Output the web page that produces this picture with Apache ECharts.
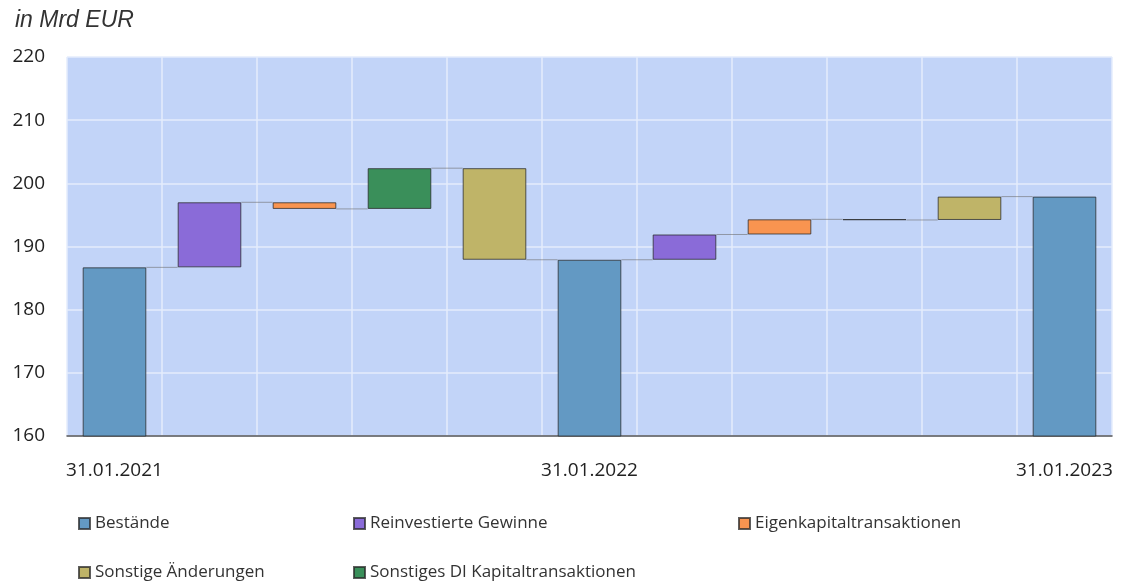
<!DOCTYPE html>
<html>
<head>
<meta charset="utf-8">
<script src="https://cdn.jsdelivr.net/npm/echarts@6/dist/echarts.min.js"></script>
<style>
html,body{margin:0;padding:0;background:#fff;}
#chart{width:1121px;height:582px;}
</style>
</head>
<body>
<div id="chart"></div>
<script>
// ---- data ----
const categories = ['31.01.2021', 'RG 2021', 'EK 2021', 'DI 2021', 'SA 2021',
                    '31.01.2022', 'RG 2022', 'EK 2022', 'DI 2022', 'SA 2022', '31.01.2023'];
const tickLabels = ['31.01.2021', '', '', '', '', '31.01.2022', '', '', '', '', '31.01.2023'];
const stockValues = [186.7, 187.9, 197.9];           // Bestände at 31.01.2021/2022/2023
const reinvested = [10.3, 4.0];                       // Reinvestierte Gewinne
const equityTx = [-1.05, 2.4];                        // Eigenkapitaltransaktionen
const otherDI = [6.45, -0.1];                         // Sonstiges DI Kapitaltransaktionen
const otherChanges = [-14.5, 3.7];                    // Sonstige Änderungen
const yTicks = [160, 170, 180, 190, 200, 210, 220];

const seriesNames = ['Bestände', 'Reinvestierte Gewinne', 'Eigenkapitaltransaktionen',
                     'Sonstige Änderungen', 'Sonstiges DI Kapitaltransaktionen'];
const colors = {
  'Bestände': '#6399C3',
  'Reinvestierte Gewinne': '#8A6BD8',
  'Eigenkapitaltransaktionen': '#F99450',
  'Sonstige Änderungen': '#BFB468',
  'Sonstiges DI Kapitaltransaktionen': '#3A8F5A'
};

// ---- build waterfall ----
const n = categories.length;
const base = new Array(n).fill('-');
const vis = {};
seriesNames.forEach(s => vis[s] = new Array(n).fill('-'));
const levels = new Array(n).fill(0);
let level = 0;
for (let y = 0; y < stockValues.length; y++) {
  const si = y * 5;
  level = stockValues[y];
  vis['Bestände'][si] = level;
  levels[si] = level;
  if (y < stockValues.length - 1) {
    const deltas = [
      ['Reinvestierte Gewinne', reinvested[y]],
      ['Eigenkapitaltransaktionen', equityTx[y]],
      ['Sonstiges DI Kapitaltransaktionen', otherDI[y]],
      ['Sonstige Änderungen', otherChanges[y]]
    ];
    deltas.forEach((d, k) => {
      const idx = si + 1 + k;
      const start = level, end = level + d[1];
      base[idx] = Math.min(start, end);
      vis[d[0]][idx] = Math.abs(d[1]);
      level = end;
      levels[idx] = level;
    });
  }
}
const connectors = [];
for (let i = 0; i < n - 1; i++) connectors.push([i, levels[i]]);

const BAR_RATIO = 0.67;
const series = [{
  name: '_base', type: 'bar', stack: 'wf', data: base, barWidth: '67%',
  itemStyle: { color: 'transparent', borderWidth: 0 }, silent: true
}];
seriesNames.forEach(s => {
  series.push({
    name: s, type: 'bar', stack: 'wf', data: vis[s], barWidth: '67%',
    itemStyle: { color: colors[s], borderColor: 'rgba(40,40,40,0.75)', borderWidth: 1 }
  });
});
series.push({
  name: '_conn', type: 'custom', data: connectors, silent: true, z: 1,
  renderItem: function (params, api) {
    const i = api.value(0), v = api.value(1);
    const bw = api.size([1, 0])[0];
    const p1 = api.coord([i, v]);
    const p2 = api.coord([i + 1, v]);
    return {
      type: 'line',
      shape: { x1: p1[0] + bw * BAR_RATIO / 2, y1: p1[1], x2: p2[0] - bw * BAR_RATIO / 2, y2: p2[1] },
      style: { stroke: 'rgba(110,110,110,0.6)', lineWidth: 1 }
    };
  }
});

const legendFont = { fontFamily: 'Open Sans', fontSize: 17, color: '#333' };
function mkLegend(name, left, top) {
  return {
    data: [name], left: left, top: top, icon: 'rect', itemWidth: 11, itemHeight: 11,
    itemGap: 0, textStyle: legendFont, selectedMode: false
  };
}

const chart = echarts.init(document.getElementById('chart'));
chart.setOption({
  animation: false,
  backgroundColor: '#fff',
  title: {
    text: 'in Mrd EUR', left: 10, top: 4,
    textStyle: { fontFamily: 'Liberation Sans', fontStyle: 'italic', fontWeight: 'normal', fontSize: 23, color: '#333' }
  },
  grid: { left: 67, right: 9, top: 57, bottom: 146, show: true, backgroundColor: '#C2D4F8', borderWidth: 0 },
  legend: [
    mkLegend('Bestände', 73, 510),
    mkLegend('Reinvestierte Gewinne', 348, 510),
    mkLegend('Eigenkapitaltransaktionen', 733, 510),
    mkLegend('Sonstige Änderungen', 73, 559),
    mkLegend('Sonstiges DI Kapitaltransaktionen', 348, 559)
  ],
  xAxis: {
    type: 'category', data: categories, boundaryGap: true,
    axisLine: { show: true, lineStyle: { color: '#555', width: 1.5 } },
    axisTick: { show: false },
    splitLine: { show: true, lineStyle: { color: '#E4ECFC', width: 1.5 } },
    axisLabel: {
      interval: 0, margin: 25, fontFamily: 'Open Sans', fontSize: 19, color: '#222',
      formatter: (v, i) => tickLabels[i]
    }
  },
  yAxis: {
    type: 'value', min: yTicks[0], max: yTicks[yTicks.length - 1], interval: 10,
    axisLine: { show: false }, axisTick: { show: false },
    splitLine: { show: true, lineStyle: { color: '#E4ECFC', width: 1.5 } },
    axisLabel: { margin: 22, fontFamily: 'Open Sans', fontSize: 19, color: '#222' }
  },
  series: series
});
</script>
</body>
</html>
